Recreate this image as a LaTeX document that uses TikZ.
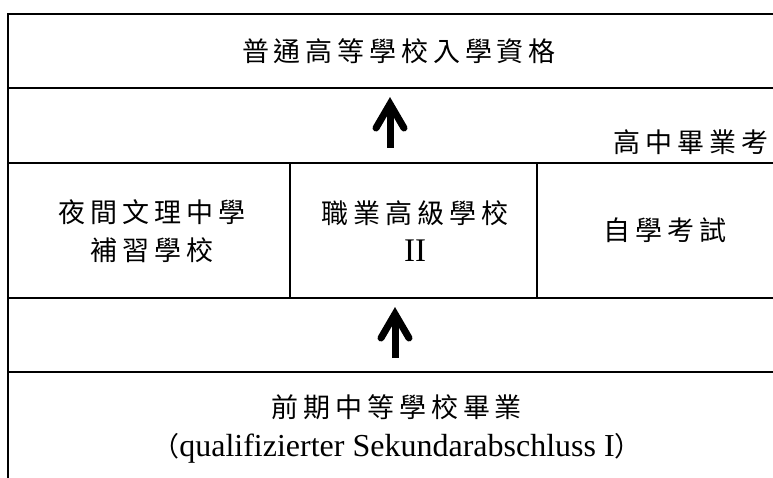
\documentclass[tikz,border=0pt]{standalone}
\usepackage{fontspec}
\setmainfont{Liberation Serif}
\newfontfamily\cjk{Noto Sans CJK TC}[LetterSpace=18]
\usetikzlibrary{calc}
\begin{document}
\begin{tikzpicture}[x=1pt,y=-1pt,
  rule/.style={line width=2.8pt},
  lbl/.style={font=\cjk\fontsize{27}{37.5}\selectfont, align=center, inner sep=0pt},
  shaft/.style={line width=7pt, line cap=butt},
  head/.style={line width=7pt, line cap=round, line join=miter}]
\useasboundingbox (0,0) rectangle (773,478);
% grid lines
\draw[rule] (8,478) -- (8,14) -- (773,14);
\draw[rule] (8,88) -- (773,88);
\draw[rule] (8,163) -- (773,163);
\draw[rule] (8,298) -- (773,298);
\draw[rule] (8,372) -- (773,372);
\draw[rule] (290,163) -- (290,298);
\draw[rule] (537,163) -- (537,298);
% labels
\node[lbl] (top) at (399,51.5) {普通高等學校入學資格};
\node[lbl, anchor=east] (exam) at (768.5,142) {高中畢業考};
\node[lbl] (night) at (152,231) {夜間文理中學\\補習學校};
\node[lbl] (voc) at (415,231) {職業高級學校\\{\rmfamily\fontsize{33}{37.5}\selectfont II}};
\node[lbl] (self) at (665,230) {自學考試};
\node[lbl, font=\cjk\fontsize{27}{39}\selectfont] (base) at (397,429) {前期中等學校畢業\\（{\rmfamily\fontsize{32}{39}\selectfont qualifizierter Sekundarabschluss I}）};
% arrows
\coordinate (a1b) at (390,148);
\coordinate (a1t) at (390,104);
\coordinate (a2b) at (395,358);
\coordinate (a2t) at (395,314);
\draw[shaft] (a1b) -- ($(a1t)+(0,6)$);
\draw[head] ($(a1t)+(-14,24)$) -- (a1t) -- ($(a1t)+(14,24)$);
\draw[shaft] (a2b) -- ($(a2t)+(0,6)$);
\draw[head] ($(a2t)+(-14,24)$) -- (a2t) -- ($(a2t)+(14,24)$);
\end{tikzpicture}
\end{document}
